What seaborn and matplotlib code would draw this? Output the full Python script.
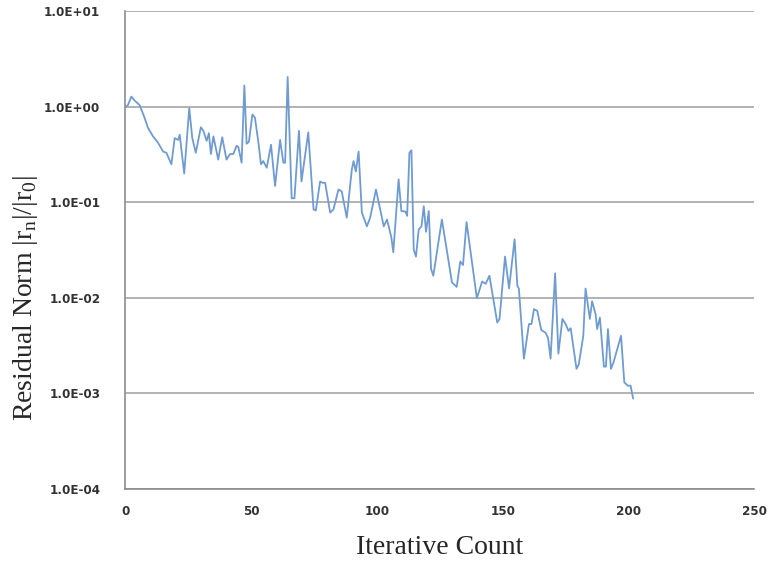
import numpy as np
import pandas as pd
import matplotlib
matplotlib.use("Agg")
import matplotlib.pyplot as plt
import seaborn as sns
from matplotlib.ticker import FuncFormatter, FixedLocator

# vertices of the residual curve
iterations = [0, 1, 2.4, 3.7, 5.7, 7.7, 9, 11, 13, 15, 16.3, 18.3, 19.6, 21, 21.6,
              23.4, 25.4, 26.6, 28, 30, 31, 32.3, 33.2, 34, 35, 36.9, 38.5, 40.2,
              41.6, 42.9, 44.2, 44.9, 46.2, 47.3, 48.2, 49.1, 50.5, 51.5, 52.9,
              53.9, 54.8, 56.2, 57.9, 59.5, 61.5, 62.8, 63.5, 64.5, 66.1, 67.2,
              69, 70, 72.7, 74.8, 75.7, 77.4, 78.4, 79.4, 81.4, 82.7, 84.7, 86,
              88, 90, 90.7, 91.6, 92.7, 94, 96, 97.3, 99.6, 102.7, 104, 105.7,
              106.5, 108.6, 109.7, 111.3, 112, 112.9, 113.7, 114.6, 115.5, 116.6,
              117.7, 118.6, 119.5, 120.6, 121.5, 122.4, 125.8, 129.8, 131.7, 133.1,
              134.2, 135.6, 139.7, 141.8, 143.2, 144.7, 147.8, 148.7, 150.9, 152.5,
              154.7, 155.8, 156.4, 158.4, 160.4, 161.4, 162.4, 163.7, 165.3, 167,
              168, 169, 170.8, 172.1, 173.7, 175, 176.1, 177, 179.3, 180.2, 182,
              182.9, 184.6, 185.5, 186.9, 187.5, 188.6, 190.2, 191, 191.8, 193,
              194, 197, 198.3, 199.7, 200.8, 201.8]
residual = [1.0, 1.04, 1.28, 1.16, 1.04, 0.76, 0.60, 0.49, 0.42, 0.34, 0.33, 0.25,
            0.47, 0.45, 0.51, 0.20, 0.97, 0.47, 0.33, 0.61, 0.56, 0.44, 0.53, 0.32,
            0.49, 0.28, 0.48, 0.28, 0.32, 0.32, 0.39, 0.38, 0.26, 1.67, 0.41, 0.43,
            0.83, 0.77, 0.42, 0.25, 0.27, 0.23, 0.40, 0.148, 0.45, 0.26, 0.26, 2.05,
            0.11, 0.11, 0.56, 0.165, 0.54, 0.084, 0.082, 0.165, 0.16, 0.16, 0.078,
            0.084, 0.136, 0.13, 0.069, 0.22, 0.27, 0.21, 0.34, 0.078, 0.056, 0.069,
            0.136, 0.056, 0.066, 0.043, 0.030, 0.174, 0.081, 0.080, 0.072, 0.33,
            0.35, 0.032, 0.027, 0.052, 0.056, 0.091, 0.049, 0.081, 0.020, 0.017,
            0.066, 0.0145, 0.013, 0.024, 0.022, 0.062, 0.0099, 0.0148, 0.014, 0.017,
            0.0055, 0.006, 0.027, 0.0125, 0.041, 0.0133, 0.0125, 0.0023, 0.0053,
            0.0053, 0.0076, 0.0073, 0.0046, 0.0043, 0.0038, 0.0023, 0.018, 0.0026,
            0.006, 0.0053, 0.0045, 0.0048, 0.0018, 0.0020, 0.004, 0.0125, 0.0060,
            0.0092, 0.0067, 0.0047, 0.0062, 0.0019, 0.0019, 0.0047, 0.0018, 0.0021,
            0.004, 0.0013, 0.0012, 0.0012, 0.00088]

x_ticks = [0, 50, 100, 150, 200, 250]
y_ticks = [1e-4, 1e-3, 1e-2, 1e-1, 1e0, 1e1]

df = pd.DataFrame({"iteration": iterations, "residual": residual})

sns.set_style("white")
plt.rcParams["font.family"] = ["DejaVu Sans"]
plt.rcParams["font.stretch"] = "condensed"

fig = plt.figure(figsize=(7.69, 5.65), dpi=100)
ax = fig.add_axes([0.163, 0.135, 0.818, 0.845])

sns.lineplot(data=df, x="iteration", y="residual", ax=ax,
             color="#6f9bd1", linewidth=1.3, sort=False)

ax.set_yscale("log")
ax.set_xlim(0, 250)
ax.set_ylim(1e-4, 1e1)
ax.xaxis.set_major_locator(FixedLocator(x_ticks))
ax.yaxis.set_major_locator(FixedLocator(y_ticks))
ax.yaxis.set_minor_locator(FixedLocator([]))
ax.yaxis.set_major_formatter(FuncFormatter(lambda v, p: "{:.1E}".format(v)))

ax.grid(axis="y", color="#a6a6a6", linewidth=1.2)
ax.grid(axis="x", visible=False)
for side in ["top", "right"]:
    ax.spines[side].set_visible(False)
for side in ["left", "bottom"]:
    ax.spines[side].set_color("#8c8c8c")
    ax.spines[side].set_linewidth(1.2)

ax.tick_params(axis="both", which="major", direction="out", length=4,
               color="#8c8c8c", labelsize=9.5, labelcolor="#333333")
ax.tick_params(axis="y", pad=14)
ax.tick_params(axis="x", pad=8)
for lbl in ax.get_xticklabels() + ax.get_yticklabels():
    lbl.set_fontweight("bold")

ax.set_xlabel("Iterative Count", fontsize=20, family="Liberation Serif", labelpad=12)
ax.set_ylabel(r"Residual Norm |r$_\mathregular{n}$|/|r$_\mathregular{0}$|",
              fontsize=20, family="Liberation Serif")
ax.yaxis.set_label_coords(-0.135, 0.40)

fig.savefig("out.png", dpi=100)
